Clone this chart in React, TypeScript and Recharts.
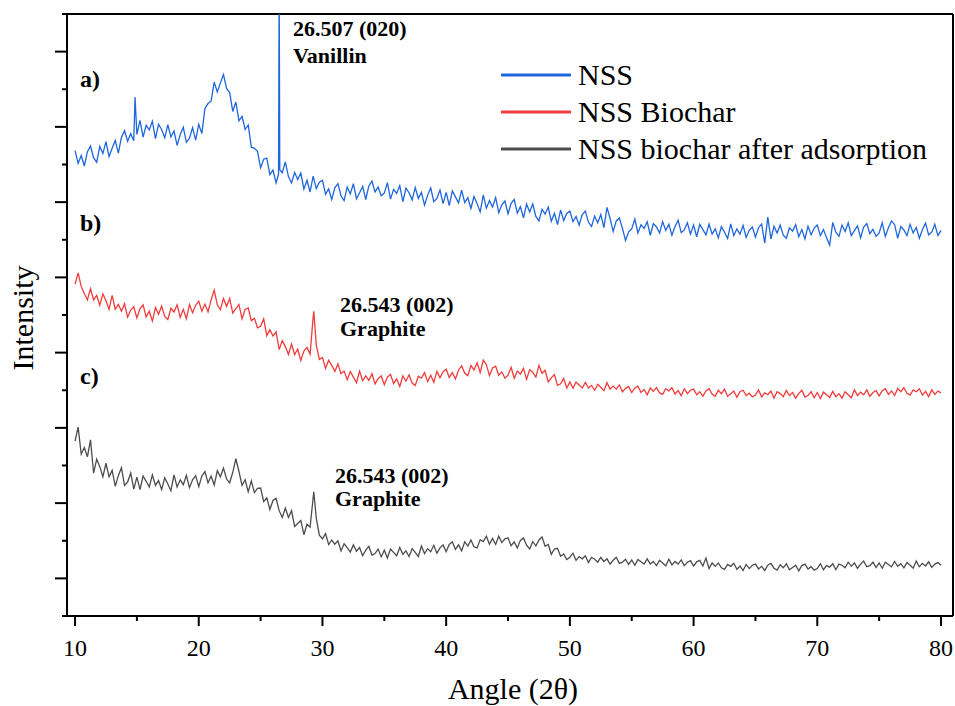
import React from "react";
import { LineChart, Line, XAxis, YAxis, Legend, ReferenceLine } from "recharts";

// XRD scans on a 0.25 deg step grid (10 -> 80 deg)
const ANGLE_START = 10;
const ANGLE_STEP = 0.25;

const nssIntensity = [
  123.7, 120.3, 122.4, 119.6, 123.4, 124.9, 121.8, 120.6, 124.8, 122.9, 126.1, 122.1, 124.3, 126.4, 123.0, 127.2, 129.0, 126.2, 128.2, 126.3,
  128.0, 131.7, 127.3, 130.4, 129.2, 131.5, 126.9, 130.7, 129.3, 127.1, 130.6, 127.3, 128.9, 125.1, 127.9, 129.9, 125.9, 127.0, 129.8, 126.5,
  130.7, 128.2, 134.9, 136.2, 136.9, 141.9, 139.3, 141.7, 143.9, 140.2, 139.1, 134.1, 136.6, 131.6, 132.8, 129.3, 130.5, 124.6, 124.3, 123.5,
  119.1, 121.4, 121.7, 117.3, 118.5, 115.1, 168.0, 117.8, 120.7, 116.8, 115.1, 117.9, 116.0, 117.7, 113.5, 115.8, 112.7, 116.9, 113.6, 115.3,
  115.8, 112.1, 113.5, 110.7, 113.8, 114.9, 111.7, 110.4, 114.0, 112.2, 114.9, 110.9, 112.5, 114.2, 110.7, 114.3, 115.6, 112.7, 114.0, 111.7,
  112.4, 115.2, 110.8, 113.4, 112.3, 114.4, 110.1, 113.7, 112.5, 110.6, 113.9, 111.0, 112.6, 109.2, 111.8, 113.8, 110.1, 111.0, 113.2, 109.6,
  112.6, 109.1, 113.0, 111.4, 109.8, 113.2, 109.9, 111.2, 108.3, 111.5, 109.6, 107.4, 111.9, 108.4, 110.4, 108.7, 111.2, 107.2, 109.3, 110.3,
  106.9, 109.7, 110.7, 107.1, 108.8, 105.8, 109.5, 107.4, 109.5, 106.2, 105.0, 108.1, 106.8, 108.7, 104.9, 107.0, 104.0, 107.9, 105.1, 107.0,
  107.6, 104.8, 106.2, 103.9, 106.7, 107.6, 104.7, 103.5, 106.3, 104.5, 106.7, 103.2, 108.6, 105.6, 102.2, 105.0, 105.8, 103.0, 99.8, 102.1,
  102.9, 105.5, 101.8, 104.0, 103.0, 104.8, 101.2, 104.3, 103.4, 101.8, 104.8, 102.5, 104.1, 101.2, 103.5, 105.2, 101.9, 102.6, 104.5, 101.5,
  103.9, 100.8, 104.1, 102.7, 101.3, 104.2, 101.5, 102.9, 100.5, 103.5, 102.0, 100.3, 104.2, 101.1, 102.9, 101.5, 103.8, 100.6, 102.5, 103.4,
  100.7, 103.2, 104.2, 99.1, 106.0, 100.2, 103.6, 101.8, 103.9, 101.2, 100.4, 103.2, 102.3, 104.0, 100.8, 102.7, 100.2, 103.6, 101.3, 103.1,
  103.9, 101.1, 102.7, 100.5, 98.6, 104.6, 102.0, 100.9, 103.9, 102.2, 104.5, 101.1, 102.4, 103.7, 100.5, 103.4, 104.3, 101.6, 102.8, 100.9,
  101.8, 104.5, 100.9, 103.2, 105.0, 104.0, 100.4, 103.5, 102.6, 101.1, 104.1, 101.8, 103.3, 100.4, 102.7, 104.4, 101.3, 102.0, 104.1, 101.1,
  102.5,
];
// off-grid points so the sharp peaks stay narrow
const nssExtra = [
  { angle: 14.85, value: 137.9 },
  { angle: 26.45, value: 117.4 },
  { angle: 26.55, value: 118.6 },
];

const biocharIntensity = [
  88.2, 91.2, 87.6, 85.7, 84.0, 87.0, 84.0, 85.2, 82.6, 85.6, 83.8, 81.5, 85.2, 81.5, 82.8, 81.0, 83.0, 79.4, 81.3, 82.2,
  79.2, 81.7, 82.7, 79.5, 81.0, 78.4, 82.0, 80.2, 82.4, 79.6, 78.8, 81.8, 80.8, 82.7, 79.4, 81.5, 79.0, 82.8, 80.6, 82.6,
  83.7, 81.0, 82.9, 80.8, 84.0, 86.6, 82.7, 81.4, 84.4, 82.3, 84.4, 80.5, 81.7, 82.8, 79.0, 81.5, 81.9, 78.5, 79.1, 76.6,
  77.0, 79.0, 74.5, 76.1, 74.4, 75.5, 70.8, 73.2, 71.6, 69.5, 72.3, 69.5, 70.9, 67.9, 70.4, 71.4, 69.6, 79.5, 72.0, 68.2,
  68.7, 65.8, 68.0, 66.6, 65.0, 67.0, 64.4, 65.1, 62.8, 65.0, 63.5, 62.0, 65.1, 62.5, 63.8, 62.6, 64.4, 61.7, 63.1, 63.8,
  61.5, 63.5, 64.2, 61.8, 63.0, 61.0, 63.8, 62.4, 64.1, 61.9, 61.3, 63.7, 63.2, 64.7, 62.3, 64.0, 62.1, 65.0, 63.3, 64.9,
  65.6, 63.4, 64.7, 63.0, 65.4, 66.5, 64.5, 63.9, 66.6, 65.4, 67.3, 64.7, 68.0, 66.8, 63.9, 65.9, 66.4, 64.0, 64.9, 63.2,
  64.0, 66.1, 63.2, 65.1, 64.3, 65.8, 62.9, 65.5, 64.8, 63.5, 66.6, 64.5, 65.3, 62.2, 63.3, 64.2, 61.3, 61.7, 63.1, 60.6,
  62.2, 60.5, 62.2, 61.4, 60.6, 62.1, 60.6, 61.3, 60.0, 61.6, 60.8, 59.9, 62.0, 60.3, 61.1, 60.3, 61.4, 59.6, 60.5, 61.0,
  59.4, 60.6, 61.1, 59.4, 60.2, 58.8, 60.6, 59.7, 60.7, 59.3, 58.9, 60.4, 59.8, 60.7, 59.0, 59.9, 58.6, 60.4, 59.1, 60.0,
  60.3, 58.8, 59.6, 58.4, 59.8, 60.4, 59.0, 58.4, 60.0, 59.1, 60.3, 58.4, 59.1, 59.8, 58.1, 59.6, 60.0, 58.6, 59.2, 58.2,
  58.7, 60.1, 58.2, 59.3, 58.8, 59.8, 57.9, 59.6, 59.1, 58.3, 59.9, 58.6, 59.4, 57.9, 59.1, 60.0, 58.2, 58.6, 59.6, 58.0,
  59.4, 57.8, 59.5, 58.8, 58.1, 59.7, 58.3, 59.1, 57.9, 59.6, 58.8, 58.0, 60.1, 58.6, 59.5, 58.8, 60.1, 58.4, 59.4, 59.9,
  58.5, 59.9, 60.4, 58.9, 59.8, 58.6, 60.5, 59.6, 60.7, 59.2, 58.7, 60.1, 59.6, 60.4, 58.7, 59.7, 58.3, 60.1, 58.9, 59.8,
  59.3,
];
const biocharExtra = [{ angle: 29.3, value: 81.0 }];

const adsorbedIntensity = [
  46.5, 50.2, 43.0, 44.8, 42.3, 46.8, 38.0, 41.7, 39.7, 37.0, 40.6, 37.0, 38.7, 34.5, 37.3, 39.4, 34.7, 35.6, 38.0, 33.7,
  36.9, 33.6, 37.2, 35.8, 34.3, 37.5, 34.7, 36.0, 33.6, 36.7, 35.1, 33.3, 37.5, 34.3, 36.2, 34.9, 37.4, 34.1, 36.2, 37.3,
  34.4, 37.2, 38.4, 35.4, 37.2, 34.8, 38.6, 37.0, 39.3, 36.4, 35.4, 38.2, 41.8, 38.4, 34.7, 36.2, 33.0, 35.9, 32.8, 33.9,
  34.0, 30.4, 31.4, 28.3, 30.7, 31.3, 28.0, 26.2, 28.7, 26.2, 28.0, 23.8, 24.6, 25.4, 21.6, 24.4, 23.6, 31.5, 26.0, 21.5,
  20.5, 21.9, 19.0, 20.2, 19.1, 20.0, 17.3, 19.2, 18.2, 17.0, 18.9, 17.2, 18.2, 16.0, 17.5, 18.5, 16.2, 16.6, 17.8, 15.7,
  17.5, 15.4, 17.8, 16.9, 16.0, 18.2, 16.4, 17.3, 15.8, 17.9, 16.9, 15.8, 18.6, 16.6, 17.9, 17.1, 18.8, 16.7, 18.1, 18.9,
  17.1, 19.0, 19.7, 17.7, 18.9, 17.3, 19.7, 18.6, 20.2, 18.4, 18.1, 20.3, 19.8, 21.2, 19.1, 20.6, 19.0, 21.2, 19.5, 20.5,
  20.8, 18.7, 19.7, 18.1, 20.1, 20.7, 18.8, 17.8, 19.8, 18.6, 20.2, 21.0, 18.5, 19.0, 16.4, 17.8, 18.0, 15.9, 16.5, 15.0,
  15.6, 16.7, 14.8, 15.8, 15.2, 16.0, 14.2, 15.6, 15.1, 14.3, 15.6, 14.5, 15.2, 13.8, 14.8, 15.6, 14.0, 14.3, 15.1, 13.7,
  14.9, 13.5, 15.0, 14.4, 13.8, 15.2, 13.8, 14.5, 13.4, 14.8, 14.1, 13.3, 15.1, 13.6, 14.5, 13.8, 14.9, 13.4, 14.3, 14.7,
  13.3, 14.4, 14.8, 13.3, 15.4, 12.6, 14.1, 13.2, 14.1, 12.8, 12.4, 13.7, 13.2, 14.0, 12.4, 13.3, 12.1, 13.7, 12.6, 13.5,
  13.8, 12.5, 13.2, 12.1, 13.5, 14.0, 12.7, 12.2, 13.6, 12.8, 13.9, 12.3, 12.9, 13.5, 12.0, 13.4, 13.8, 12.5, 13.1, 12.2,
  12.6, 13.9, 12.3, 13.4, 13.0, 13.9, 12.3, 13.8, 13.5, 12.8, 14.3, 13.2, 14.1, 12.7, 13.8, 14.6, 13.1, 13.4, 14.3, 12.9,
  14.1, 12.7, 14.3, 13.7, 13.1, 14.5, 13.2, 13.9, 12.8, 14.2, 13.5, 12.7, 14.6, 13.1, 14.0, 13.3, 14.4, 12.9, 13.8, 14.2,
  13.5,
];
const adsorbedExtra = [{ angle: 29.3, value: 33.0 }];

const X_DOMAIN = [9.35, 80.97];
const X_TICKS = [10, 15, 20, 25, 30, 35, 40, 45, 50, 55, 60, 65, 70, 75, 80];
const Y_DOMAIN = [0, 160];
const Y_TICKS = [0, 10, 20, 30, 40, 50, 60, 70, 80, 90, 100, 110, 120, 130, 140, 150, 160];

const SERIF = '"Liberation Serif", "Times New Roman", serif';

type Pt = { angle: number; value: number };

function buildSeries(values: number[], extra: Pt[]): Pt[] {
  const pts = values.map((v, i) => ({ angle: +(ANGLE_START + i * ANGLE_STEP).toFixed(2), value: v }));
  return [...pts, ...extra].sort((a, b) => a.angle - b.angle);
}

const nssData = buildSeries(nssIntensity, nssExtra);
const biocharData = buildSeries(biocharIntensity, biocharExtra);
const adsorbedData = buildSeries(adsorbedIntensity, adsorbedExtra);

const XTick = ({ x, y, payload }: any) => {
  const major = payload.value % 10 === 0;
  return (
    <g>
      <line x1={x} x2={x} y1={y} y2={y + (major ? 10 : 5)} stroke="#000" strokeWidth={2} />
      {major && (
        <text x={x} y={y + 40} textAnchor="middle" fontFamily={SERIF} fontSize={24} fill="#000">
          {payload.value}
        </text>
      )}
    </g>
  );
};

const YTick = ({ x, y, payload }: any) => {
  const major = (payload.value / 10) % 2 === 1;
  return <line x1={x - (major ? 12 : 5)} x2={x} y1={y} y2={y} stroke="#000" strokeWidth={2} />;
};

const LegendContent = ({ payload }: any) => (
  <div style={{ fontFamily: SERIF, fontSize: 30, color: "#000" }}>
    {(payload || []).map((entry: any) => (
      <div key={entry.value} style={{ display: "flex", alignItems: "center", height: 37 }}>
        <svg width={70} height={6}>
          <line x1={1} x2={69} y1={3} y2={3} stroke={entry.color} strokeWidth={3} strokeLinecap="round" />
        </svg>
        <span style={{ marginLeft: 7, lineHeight: "37px", whiteSpace: "nowrap" }}>{entry.value}</span>
      </div>
    ))}
  </div>
);

export default function App() {
  const bold = { fontFamily: SERIF, fontWeight: 700, fill: "#000" } as const;
  return (
    <div style={{ position: "absolute", left: 0, top: 0, width: 955, height: 706, background: "#fff" }}>
      <LineChart width={955} height={706} margin={{ top: 14, right: 2, bottom: 50, left: 0 }}>
        <XAxis
          dataKey="angle"
          type="number"
          domain={X_DOMAIN}
          ticks={X_TICKS}
          interval={0}
          allowDataOverflow
          height={40}
          tickSize={0}
          tickMargin={0}
          tickLine={false}
          axisLine={{ stroke: "#000", strokeWidth: 2 }}
          tick={<XTick />}
        />
        <YAxis
          type="number"
          domain={Y_DOMAIN}
          ticks={Y_TICKS}
          interval={0}
          allowDataOverflow
          width={67}
          tickSize={0}
          tickMargin={0}
          tickLine={false}
          axisLine={{ stroke: "#000", strokeWidth: 2 }}
          tick={<YTick />}
        />
        <ReferenceLine y={Y_DOMAIN[1]} stroke="#000" strokeWidth={2} />
        <ReferenceLine x={X_DOMAIN[1]} stroke="#000" strokeWidth={2} />
        <Legend
          layout="vertical"
          align="center"
          verticalAlign="middle"
          content={<LegendContent />}
          wrapperStyle={{ left: 501, top: 56, width: "auto" }}
        />
        <Line data={nssData} dataKey="value" name="NSS" stroke="#1f66dd" strokeWidth={1.3} dot={false} isAnimationActive={false} />
        <Line data={biocharData} dataKey="value" name="NSS Biochar" stroke="#f03c3c" strokeWidth={1.3} dot={false} isAnimationActive={false} />
        <Line
          data={adsorbedData}
          dataKey="value"
          name="NSS biochar after adsorption"
          stroke="#4d4d4d"
          strokeWidth={1.3}
          dot={false}
          isAnimationActive={false}
        />
      </LineChart>
      <svg width={955} height={706} style={{ position: "absolute", left: 0, top: 0, pointerEvents: "none" }}>
        <text transform="translate(33,318) rotate(-90)" textAnchor="middle" fontFamily={SERIF} fontSize={30} fill="#000">
          Intensity
        </text>
        <text x={513} y={699} textAnchor="middle" fontFamily={SERIF} fontSize={30} fill="#000">
          Angle (2θ)
        </text>
        <text x={80} y={87} fontSize={24} {...bold}>a)</text>
        <text x={80} y={231} fontSize={24} {...bold}>b)</text>
        <text x={80} y={384} fontSize={24} {...bold}>c)</text>
        <text x={293} y={36} fontSize={22} {...bold}>26.507 (020)</text>
        <text x={293} y={63} fontSize={22} {...bold}>Vanillin</text>
        <text x={340} y={312} fontSize={22} {...bold}>26.543 (002)</text>
        <text x={340} y={336} fontSize={22} {...bold}>Graphite</text>
        <text x={335} y={483} fontSize={22} {...bold}>26.543 (002)</text>
        <text x={335} y={506} fontSize={22} {...bold}>Graphite</text>
      </svg>
    </div>
  );
}
